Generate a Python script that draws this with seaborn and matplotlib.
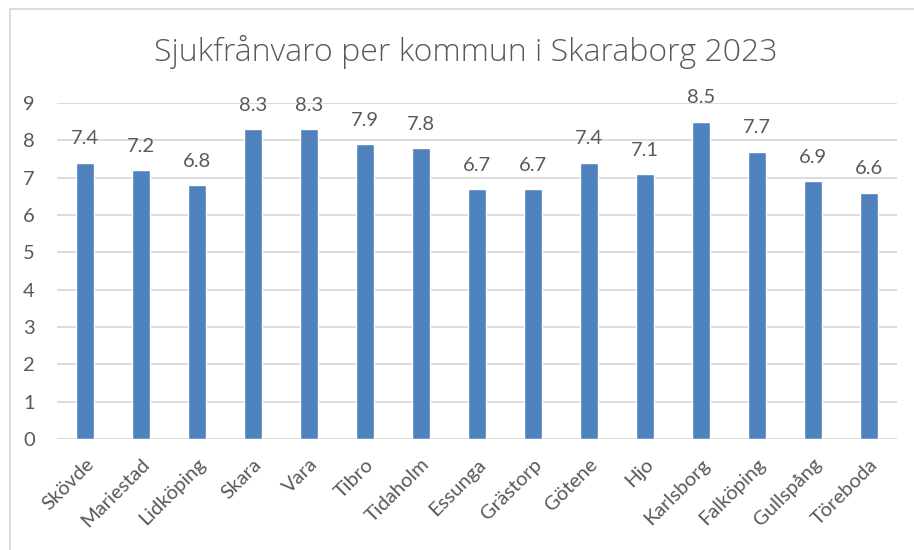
import matplotlib
matplotlib.use("Agg")
import matplotlib.pyplot as plt
import seaborn as sns
import pandas as pd
from matplotlib.patches import Rectangle

kommuner = ["Skövde", "Mariestad", "Lidköping", "Skara", "Vara", "Tibro", "Tidaholm",
            "Essunga", "Grästorp", "Götene", "Hjo", "Karlsborg", "Falköping",
            "Gullspång", "Töreboda"]
sjukfranvaro = [7.4, 7.2, 6.8, 8.3, 8.3, 7.9, 7.8, 6.7, 6.7, 7.4, 7.1, 8.5, 7.7, 6.9, 6.6]
y_ticks = [0, 1, 2, 3, 4, 5, 6, 7, 8, 9]
title = "Sjukfrånvaro per kommun i Skaraborg 2023"

sns.set_theme(style="white")
plt.rcParams["font.family"] = ["Lato", "DejaVu Sans"]

text_color = "#595959"
grid_color = "#D9D9D9"
bar_color = "#4F81BD"

df = pd.DataFrame({"Kommun": kommuner, "Sjukfrånvaro": sjukfranvaro})

fig = plt.figure(figsize=(9.14, 5.5), dpi=100)
ax = fig.add_axes([57 / 914, 1 - 439 / 550, 840 / 914, 336 / 550])

sns.barplot(data=df, x="Kommun", y="Sjukfrånvaro", color=bar_color, width=0.32,
            saturation=1, ax=ax, zorder=3)

ax.set_ylim(0, 9)
ax.set_xlim(-0.5, len(kommuner) - 0.5)
ax.set_yticks(y_ticks)
ax.set_yticklabels([str(t) for t in y_ticks], fontsize=14.5, color=text_color)
ax.set_xticks(range(len(kommuner)))
ax.set_xticklabels(kommuner, rotation=45, ha="right", rotation_mode="anchor",
                   fontsize=14.5, color=text_color)
ax.tick_params(axis="both", length=0)
ax.tick_params(axis="x", pad=12)
ax.tick_params(axis="y", pad=16)
ax.set_xlabel("")
ax.set_ylabel("")

for t in y_ticks:
    ax.axhline(t, color=grid_color, lw=1.3, zorder=1)

for s in ax.spines.values():
    s.set_visible(False)

for i, v in enumerate(sjukfranvaro):
    ax.annotate(f"{v:.1f}", (i, v), xytext=(0, 11), textcoords="offset points",
                ha="center", va="bottom", fontsize=14.5, color=text_color)

fig.text(466 / 914, 1 - 52 / 550, title, ha="center", va="center",
         fontsize=23, color=text_color, family=["Open Sans", "Lato", "DejaVu Sans"],
         fontweight="light")

fig.patches.append(Rectangle((10 / 914, -0.1), 1.0, 1 - 9 / 550 + 0.1,
                             transform=fig.transFigure, fill=False,
                             edgecolor=grid_color, lw=1.3))

fig.savefig("out.png", dpi=100, facecolor="white")
